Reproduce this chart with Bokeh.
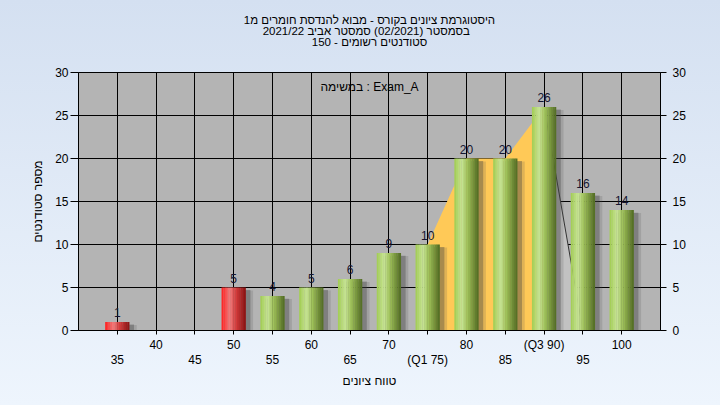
import numpy as np
from bokeh.plotting import figure
from bokeh.models import (Range1d, LinearAxis, FixedTicker, Label, Title,
                          ColumnDataSource, GlobalInlineStyleSheet)
from bokeh.embed import file_html
from bokeh.resources import INLINE

# ---------------- data ----------------
grades = [35, 50, 55, 60, 65, 70, 75, 80, 85, 90, 95, 100]
counts = [1, 5, 4, 5, 6, 9, 10, 20, 20, 26, 16, 14]
pass_grade = 55
q1_grade = 75
q3_grade = 90
tick_values = [35, 40, 45, 50, 55, 60, 65, 70, 75, 80, 85, 90, 95, 100]
tick_label_text = {75: "(Q1 75)", 90: "(Q3 90)"}
title_lines = [
    "היסטוגרמת ציונים בקורס - מבוא להנדסת חומרים מ1",
    "בסמסטר  (02/2021)  סמסטר אביב 2021/22",
    "סטודנטים רשומים - 150",
]
exam_label = "במשימה : Exam_A"
x_title = "טווח ציונים"
y_title = "מספר סטודנטים"

FONT = "Liberation Sans"
X0, X1, Y0, Y1 = 30, 105, 0, 30

p = figure(width=720, height=405, output_backend="svg", toolbar_location=None,
           x_range=Range1d(X0, X1), y_range=Range1d(Y0, Y1),
           min_border_left=78, min_border_right=60, min_border_top=72,
           min_border_bottom=75)
p.background_fill_color = "#b4b4b4"
p.border_fill_alpha = 0
p.outline_line_color = "black"
p.stylesheets = [GlobalInlineStyleSheet(
    css="html, body { background: linear-gradient(#d4e0f1, #eef5fd) fixed; }")]

# titles: a spacer next to the frame, then the three lines outward
p.add_layout(Title(text=" ", standoff=10, text_font=FONT, text_font_size="12px"), "above")
for line in reversed(title_lines):
    p.add_layout(Title(text=line, align="center", offset=-10, standoff=-3,
                       text_font=FONT, text_font_size="11.5px",
                       text_font_style="normal", text_color="black"), "above")

# grids
p.xgrid.ticker = FixedTicker(ticks=list(range(X0, X1 + 1, 5)))
p.ygrid.ticker = FixedTicker(ticks=list(range(Y0, Y1 + 1, 5)))
for g in (p.xgrid[0], p.ygrid[0]):
    g.grid_line_color = "black"
    g.grid_line_width = 1

# ---------------- axes ----------------
odd_ticks = [t for t in tick_values if (t // 5) % 2 == 1]
even_ticks = [t for t in tick_values if (t // 5) % 2 == 0]

xa = p.xaxis[0]
xa.ticker = FixedTicker(ticks=tick_values)
ov = {t: "" for t in odd_ticks}
for t in even_ticks:
    ov[t] = tick_label_text.get(t, str(t))
xa.major_label_overrides = ov
xa.major_tick_out = 4
xa.major_tick_in = 0
xa.minor_tick_line_color = None
xa.major_label_standoff = 3
xa.axis_line_color = "black"

xa2 = LinearAxis(ticker=FixedTicker(ticks=odd_ticks),
                 major_label_overrides={t: tick_label_text.get(t, str(t)) for t in odd_ticks},
                 axis_line_color=None, major_tick_line_color=None,
                 minor_tick_line_color=None, major_tick_out=0, major_tick_in=0,
                 major_label_standoff=-2, axis_label=x_title,
                 axis_label_standoff=4)
p.add_layout(xa2, "below")

ya = p.yaxis[0]
ya.ticker = FixedTicker(ticks=list(range(Y0, Y1 + 1, 5)))
ya.major_tick_out = 8
ya.major_tick_in = 0
ya.minor_tick_line_color = None
ya.major_label_standoff = 2
ya.axis_label = y_title
ya.axis_label_standoff = 7

ya2 = LinearAxis(ticker=FixedTicker(ticks=list(range(Y0, Y1 + 1, 5))),
                 major_tick_out=6, major_tick_in=0, minor_tick_line_color=None,
                 major_label_standoff=6)
p.add_layout(ya2, "right")

for ax in (xa, xa2, ya, ya2):
    ax.major_label_text_font = FONT
    ax.major_label_text_font_size = "12px"
    ax.major_label_text_color = "black"
    ax.axis_label_text_font = FONT
    ax.axis_label_text_font_size = "12px"
    ax.axis_label_text_font_style = "normal"
    ax.axis_label_text_color = "black"

# ---------------- quartile area ----------------
qx = [g for g in grades if q1_grade <= g <= q3_grade]
qy = [c for g, c in zip(grades, counts) if q1_grade <= g <= q3_grade]
nxt = grades[grades.index(q3_grade) + 1]
top_q3 = counts[grades.index(q3_grade)]
p.patch([q3_grade, nxt, q3_grade], [top_q3, 0, 0], fill_color="#c2c2c2",
        line_color=None)
p.line([q3_grade, nxt], [top_q3, 0], line_color="#333333", line_width=1)
p.patch(qx + [qx[-1], qx[0]], qy + [0, 0], fill_color="#ffc957", line_color=None)

# ---------------- bars ----------------
bar_w = 3.1
gx = np.array(grades, dtype=float)
gy = np.array(counts, dtype=float)

# shadows
p.vbar(x=gx + 0.95, width=bar_w, top=gy - 0.35, bottom=0,
       fill_color="#505050", fill_alpha=0.18, line_color=None)
p.vbar(x=gx + 0.6, width=bar_w, top=gy - 0.3, bottom=0,
       fill_color="#404040", fill_alpha=0.35, line_color=None)


def interp_color(stops, t):
    for (p0, c0), (p1, c1) in zip(stops[:-1], stops[1:]):
        if p0 <= t <= p1:
            f = (t - p0) / (p1 - p0)
            return "#%02x%02x%02x" % tuple(int(round(a + (b - a) * f)) for a, b in zip(c0, c1))
    return "#%02x%02x%02x" % stops[-1][1]


green = [(0.0, (160, 204, 80)), (0.3, (200, 228, 150)), (0.55, (158, 192, 88)),
         (1.0, (80, 106, 34))]
red = [(0.0, (255, 30, 30)), (0.35, (240, 125, 125)), (0.6, (212, 60, 60)),
       (1.0, (135, 18, 18))]

n = 14
sx, stop, scol = [], [], []
for g, c in zip(grades, counts):
    stops = red if g < pass_grade else green
    for i in range(n):
        tt = (i + 0.5) / n
        sx.append(g - bar_w / 2 + (i + 0.5) * bar_w / n)
        stop.append(c)
        scol.append(interp_color(stops, tt))
p.vbar(x=sx, width=bar_w / n * 1.15, top=stop, bottom=0, fill_color=scol,
       line_color=None)

# value labels
src = ColumnDataSource(dict(x=grades, y=counts, t=[str(c) for c in counts]))
p.text(x="x", y="y", text="t", source=src, text_align="center",
       text_baseline="bottom", y_offset=-5, text_font_size="12px",
       text_color="#151530", text_font={"value": FONT})

p.add_layout(Label(x=(X0 + X1) / 2, y=Y1, y_offset=-14, text=exam_label,
                   text_align="center", text_baseline="middle", text_font=FONT,
                   text_font_size="12px", text_color="black"))

open("out.html", "w").write(file_html(p, INLINE))
